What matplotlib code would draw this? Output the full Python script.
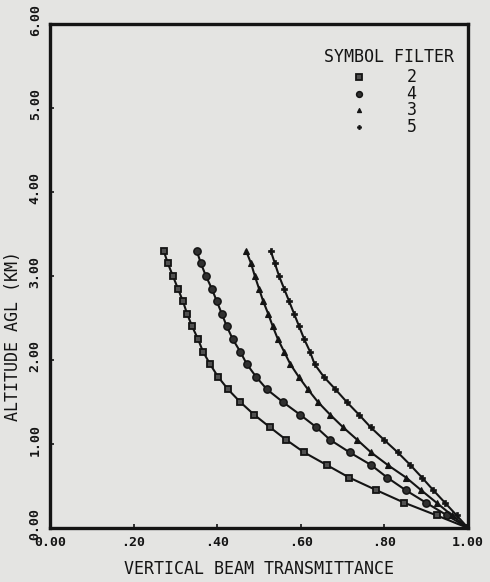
import numpy as np
import matplotlib
matplotlib.use("Agg")
import matplotlib.pyplot as plt
from matplotlib.transforms import ScaledTranslation

# ---- data ----
altitude_km = [0.00, 0.15, 0.30, 0.45, 0.60, 0.75, 0.90, 1.05, 1.20, 1.35, 1.50, 1.65,
               1.80, 1.95, 2.10, 2.25, 2.40, 2.55, 2.70, 2.85, 3.00, 3.15, 3.30]

filter_2 = [1.000, 0.925, 0.848, 0.781, 0.716, 0.662, 0.608, 0.565, 0.526, 0.488, 0.455, 0.426,
            0.402, 0.383, 0.366, 0.354, 0.340, 0.328, 0.318, 0.306, 0.294, 0.282, 0.272]
filter_4 = [1.000, 0.950, 0.900, 0.851, 0.807, 0.768, 0.717, 0.670, 0.637, 0.598, 0.557, 0.519,
            0.493, 0.471, 0.455, 0.437, 0.423, 0.411, 0.399, 0.387, 0.373, 0.361, 0.351]
filter_3 = [1.000, 0.962, 0.925, 0.888, 0.852, 0.808, 0.768, 0.735, 0.701, 0.670, 0.641, 0.617,
            0.595, 0.575, 0.560, 0.545, 0.533, 0.522, 0.510, 0.500, 0.490, 0.481, 0.469]
filter_5 = [1.000, 0.973, 0.945, 0.917, 0.890, 0.862, 0.832, 0.799, 0.767, 0.739, 0.710, 0.683,
            0.655, 0.633, 0.622, 0.608, 0.596, 0.584, 0.572, 0.560, 0.548, 0.538, 0.528]

legend_labels = ["2", "4", "3", "5"]
x_ticks = [0.0, 0.2, 0.4, 0.6, 0.8, 1.0]
x_ticklabels = ["0.00", ".20", ".40", ".60", ".80", "1.00"]
y_ticks = [0, 1, 2, 3, 4, 5, 6]
y_ticklabels = ["0.00", "1.00", "2.00", "3.00", "4.00", "5.00", "6.00"]

# ---- style ----
paper = "#e4e4e2"
ink = "#141414"
font = "DejaVu Sans Mono"

fig = plt.figure(figsize=(4.9, 5.82), dpi=100, facecolor=paper)
ax = fig.add_axes([50/490, 54/582, 418/490, 504/582], facecolor=paper)

series = [
    (filter_2, dict(marker="s", ms=5.0, mfc="#505050", mec=ink, mew=1.3)),
    (filter_4, dict(marker="o", ms=5.2, mfc="#303030", mec=ink, mew=1.1)),
    (filter_3, dict(marker="^", ms=3.8, mfc=ink, mec=ink, mew=0.8)),
    (filter_5, dict(marker="P", ms=3.8, mfc=ink, mec=ink, mew=0.5)),
]
for vals, st in series:
    ax.plot(vals, altitude_km, color=ink, lw=1.5, **st)

ax.set_xlim(0, 1)
ax.set_ylim(0, 6)
for s in ax.spines.values():
    s.set_linewidth(2.4)
    s.set_color(ink)

ax.set_xticks(x_ticks)
ax.set_xticklabels(x_ticklabels, fontfamily=font, fontsize=9.5, color=ink, fontweight="bold")
ax.set_yticks(y_ticks)
ax.set_yticklabels(y_ticklabels, fontfamily=font, fontsize=9.5, color=ink, fontweight="bold",
                   rotation=90, va="center")
ax.tick_params(axis="both", direction="in", length=3, width=1.2, color=ink)
ax.tick_params(axis="x", pad=6)
ax.tick_params(axis="y", pad=6)
off = ScaledTranslation(0, 3/72, fig.dpi_scale_trans)
for lab in ax.get_yticklabels():
    lab.set_transform(lab.get_transform() + off)

ax.set_xlabel("VERTICAL BEAM TRANSMITTANCE", fontfamily=font, fontsize=12, color=ink,
              labelpad=8)
ax.set_ylabel("ALTITUDE AGL (KM)", fontfamily=font, fontsize=12, color=ink)
ax.yaxis.set_label_coords(-0.066, 0.38)

# legend block
ax.text(0.655, 0.935, "SYMBOL FILTER", transform=ax.transAxes, fontfamily=font,
        fontsize=12, color=ink, ha="left", va="center")
row_y = [0.895, 0.862, 0.829, 0.796]
for (vals, st), lab, yy in zip(series, legend_labels, row_y):
    st2 = dict(st)
    st2["ms"] = st["ms"] * 0.8
    ax.plot([0.74], [yy], transform=ax.transAxes, color=ink, ls="none", **st2)
    ax.text(0.865, yy, lab, transform=ax.transAxes, fontfamily=font, fontsize=12,
            color=ink, ha="center", va="center")

fig.savefig("out.png", dpi=100, facecolor=paper)
